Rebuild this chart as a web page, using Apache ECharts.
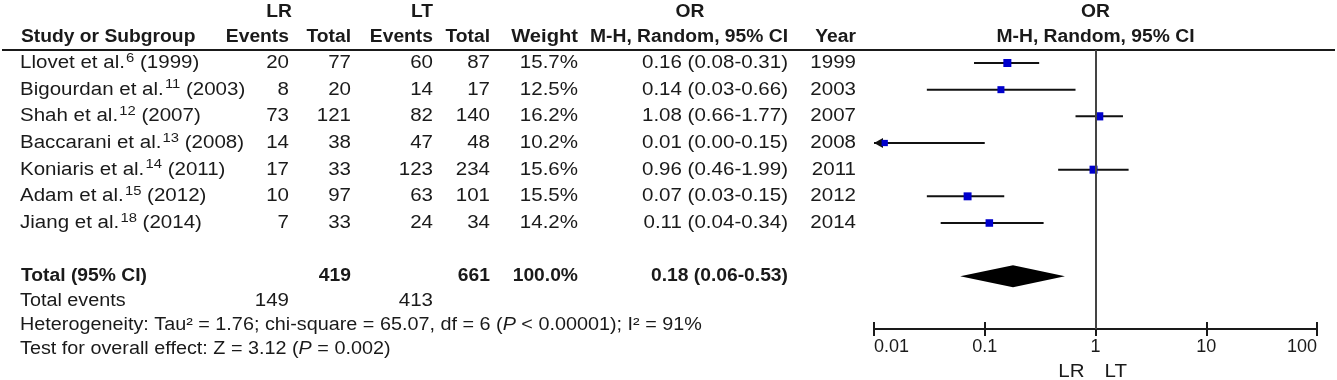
<!DOCTYPE html>
<html><head><meta charset="utf-8">
<script src="https://cdn.jsdelivr.net/npm/echarts@6/dist/echarts.min.js"></script>
<style>html,body{margin:0;padding:0;background:#fff;}#c{width:1337px;height:380px;}</style>
</head><body><div id="c"></div>
<script>
// ---------- data ----------
const studies   = ['Llovet et al.', 'Bigourdan et al.', 'Shah et al.', 'Baccarani et al.', 'Koniaris et al.', 'Adam et al.', 'Jiang et al.'];
const refs      = ['6', '11', '12', '13', '14', '15', '18'];
const years     = ['1999', '2003', '2007', '2008', '2011', '2012', '2014'];
const lrEvents  = [20, 8, 73, 14, 17, 10, 7];
const lrTotal   = [77, 20, 121, 38, 33, 97, 33];
const ltEvents  = [60, 14, 82, 47, 123, 63, 24];
const ltTotal   = [87, 17, 140, 48, 234, 101, 34];
const weights   = [15.7, 12.5, 16.2, 10.2, 15.6, 15.5, 14.2];
const orLabels  = ['0.16 (0.08-0.31)', '0.14 (0.03-0.66)', '1.08 (0.66-1.77)', '0.01 (0.00-0.15)', '0.96 (0.46-1.99)', '0.07 (0.03-0.15)', '0.11 (0.04-0.34)'];
// plotted estimates
const orEst     = [0.16, 0.14, 1.08, 0.0125, 0.96, 0.07, 0.11];
const ciLow     = [0.08, 0.03, 0.66, 0.001, 0.46, 0.03, 0.04];
const ciHigh    = [0.31, 0.66, 1.77, 0.10, 1.99, 0.15, 0.34];
// totals
const totalLR = 419, totalLT = 661, totalWeight = '100.0%', totalORLabel = '0.18 (0.06-0.53)';
const totalOR = [0.18, 0.06, 0.53];
const eventsLR = 149, eventsLT = 413;
const tickLabels = ['0.01', '0.1', '1', '10', '100'];

// ---------- chart ----------
const FF = '"Liberation Sans", Arial, sans-serif';
const FS = 18, SX = 1.14, SXB = 1.07, SXF = 1.10, TXT = '#1a1a1a';
const chart = echarts.init(document.getElementById('c'), null, {renderer: 'canvas'});

const studyData = studies.map((s, i) => [i, orEst[i], ciLow[i], ciHigh[i], weights[i]]);

chart.setOption({
  animation: false,
  grid: {left: 874, right: 20, top: 50, bottom: 51},
  xAxis: [{
    type: 'log', logBase: 10, min: 0.01, max: 100, position: 'bottom',
    axisLine: {show: true, onZero: false, lineStyle: {color: '#1a1a1a', width: 2}},
    axisTick: {show: true, length: 7, lineStyle: {color: '#1a1a1a', width: 2}},
    axisLabel: {show: true, fontSize: FS, fontFamily: FF, color: TXT, margin: 9,
      alignMinLabel: 'left', alignMaxLabel: 'right',
      formatter: v => tickLabels[Math.round(Math.log10(v)) + 2]},
    splitLine: {show: false}
  }, {
    type: 'log', logBase: 10, min: 0.01, max: 100, position: 'bottom',
    axisLine: {show: false, onZero: false},
    axisTick: {show: true, inside: true, length: 7, lineStyle: {color: '#1a1a1a', width: 2}},
    axisLabel: {show: false}, splitLine: {show: false}
  }],
  yAxis: {type: 'value', min: -0.4875, max: 9.975, inverse: true, show: false},
  series: [{
    type: 'custom', xAxisIndex: 0, yAxisIndex: 0,
    data: studyData, encode: {x: [1, 2, 3], y: 0}, clip: false,
    renderItem: (params, api) => {
      const r = api.value(0);
      const pMin = api.coord([0.01, r]);
      let pLo = api.coord([api.value(2), r]);
      const pHi = api.coord([api.value(3), r]);
      const pE = api.coord([api.value(1), r]);
      const clipped = pLo[0] < pMin[0];
      if (clipped) pLo = pMin;
      const sz = 3 + api.value(4) * 0.32;
      const children = [{
        type: 'line', shape: {x1: pLo[0], y1: pLo[1], x2: pHi[0], y2: pHi[1]},
        style: {stroke: '#111', lineWidth: 2}
      }];
      if (clipped) children.push({
        type: 'polygon', shape: {points: [[pLo[0], pLo[1]], [pLo[0] + 9, pLo[1] - 5], [pLo[0] + 9, pLo[1] + 5]]},
        style: {fill: '#111'}
      });
      children.push({
        type: 'rect', shape: {x: pE[0] - sz / 2, y: pE[1] - sz / 2, width: sz, height: sz},
        style: {fill: '#0000cc'}
      });
      return {type: 'group', children};
    },
    markLine: {
      silent: true, symbol: 'none', label: {show: false},
      lineStyle: {color: '#444', width: 2, type: 'solid'},
      data: [{xAxis: 1}]
    }
  }, {
    type: 'custom', xAxisIndex: 0, yAxisIndex: 0,
    data: [[8, totalOR[0], totalOR[1], totalOR[2]]], encode: {x: [1, 2, 3], y: 0},
    renderItem: (params, api) => {
      const r = api.value(0);
      const c = api.coord([api.value(1), r]);
      const lo = api.coord([api.value(2), r]);
      const hi = api.coord([api.value(3), r]);
      return {type: 'polygon', shape: {points: [[lo[0], c[1]], [c[0], c[1] - 11], [hi[0], c[1]], [c[0], c[1] + 11]]},
        style: {fill: '#000'}};
    }
  }]
});

// ---------- table text ----------
const rowY = r => chart.convertToPixel({yAxisIndex: 0}, r);
const xOf = v => chart.convertToPixel({xAxisIndex: 0}, v);
function T(x, y, text, o = {}) {
  const st = {
    text: String(text), fontSize: FS, fontFamily: FF, fontWeight: o.bold ? 'bold' : 'normal',
    fill: TXT, align: o.align || 'left', verticalAlign: 'middle',
    rich: {
      sup: {fontSize: 13, fontFamily: FF, fill: TXT, verticalAlign: 'top', padding: [0, 0, 10, 1]},
      it: {fontSize: FS, fontFamily: FF, fontStyle: 'italic', fill: TXT},
      n: {fontSize: FS, fontFamily: FF, fill: TXT}
    }
  };
  return {type: 'text', x, y, scaleX: o.sx || (o.bold ? SXB : SX), silent: true, style: st};
}
const C = {name: 20, lrE: 289, lrT: 351, ltE: 433, ltT: 490, wt: 578, or: 788, yr: 856};
const g = [];
// header
g.push(T(C.lrE + 3, 12, 'LR', {bold: true, align: 'right'}));
g.push(T(C.ltE, 12, 'LT', {bold: true, align: 'right'}));
g.push(T((592 + C.or) / 2, 12, 'OR', {bold: true, align: 'center'}));
g.push(T(xOf(1), 12, 'OR', {bold: true, align: 'center'}));
g.push(T(C.name + 1, 37, 'Study or Subgroup', {bold: true}));
g.push(T(C.lrE, 37, 'Events', {bold: true, align: 'right'}));
g.push(T(C.lrT, 37, 'Total', {bold: true, align: 'right'}));
g.push(T(C.ltE, 37, 'Events', {bold: true, align: 'right'}));
g.push(T(C.ltT, 37, 'Total', {bold: true, align: 'right'}));
g.push(T(C.wt, 37, 'Weight', {bold: true, align: 'right', sx: 1.12}));
g.push(T(C.or, 37, 'M-H, Random, 95% CI', {bold: true, align: 'right'}));
g.push(T(C.yr, 37, 'Year', {bold: true, align: 'right'}));
g.push(T(xOf(1), 37, 'M-H, Random, 95% CI', {bold: true, align: 'center'}));
g.push({type: 'line', silent: true, shape: {x1: 2, y1: 50, x2: 1335, y2: 50}, style: {stroke: '#1a1a1a', lineWidth: 2}});
// rows
studies.forEach((s, i) => {
  const y = rowY(i);
  g.push(T(C.name, y, s + '{sup|' + refs[i] + '}{n| (' + years[i] + ')}'));
  g.push(T(C.lrE, y, lrEvents[i], {align: 'right'}));
  g.push(T(C.lrT, y, lrTotal[i], {align: 'right'}));
  g.push(T(C.ltE, y, ltEvents[i], {align: 'right'}));
  g.push(T(C.ltT, y, ltTotal[i], {align: 'right'}));
  g.push(T(C.wt, y, weights[i].toFixed(1) + '%', {align: 'right'}));
  g.push(T(C.or, y, orLabels[i], {align: 'right'}));
  g.push(T(C.yr, y, years[i], {align: 'right'}));
});
// totals
const yT = rowY(8);
g.push(T(C.name + 1, yT, 'Total (95% CI)', {bold: true}));
g.push(T(C.lrT, yT, totalLR, {bold: true, align: 'right'}));
g.push(T(C.ltT, yT, totalLT, {bold: true, align: 'right'}));
g.push(T(C.wt, yT, totalWeight, {bold: true, align: 'right'}));
g.push(T(C.or, yT, totalORLabel, {bold: true, align: 'right'}));
g.push(T(C.name, 301, 'Total events', {sx: SXF}));
g.push(T(C.lrE, 301, eventsLR, {align: 'right'}));
g.push(T(C.ltE, 301, eventsLT, {align: 'right'}));
g.push(T(C.name, 325, 'Heterogeneity: Tau² = 1.76; chi-square = 65.07, df = 6 ({it|P} < 0.00001); I² = 91%', {sx: SXF}));
g.push(T(C.name, 349, 'Test for overall effect: Z = 3.12 ({it|P} = 0.002)', {sx: SXF}));
// LR / LT under axis
g.push(T(xOf(1) - 11, 372, 'LR', {align: 'right'}));
g.push(T(xOf(1) + 9, 372, 'LT', {align: 'left'}));
chart.setOption({graphic: g});
</script>
</body></html>
